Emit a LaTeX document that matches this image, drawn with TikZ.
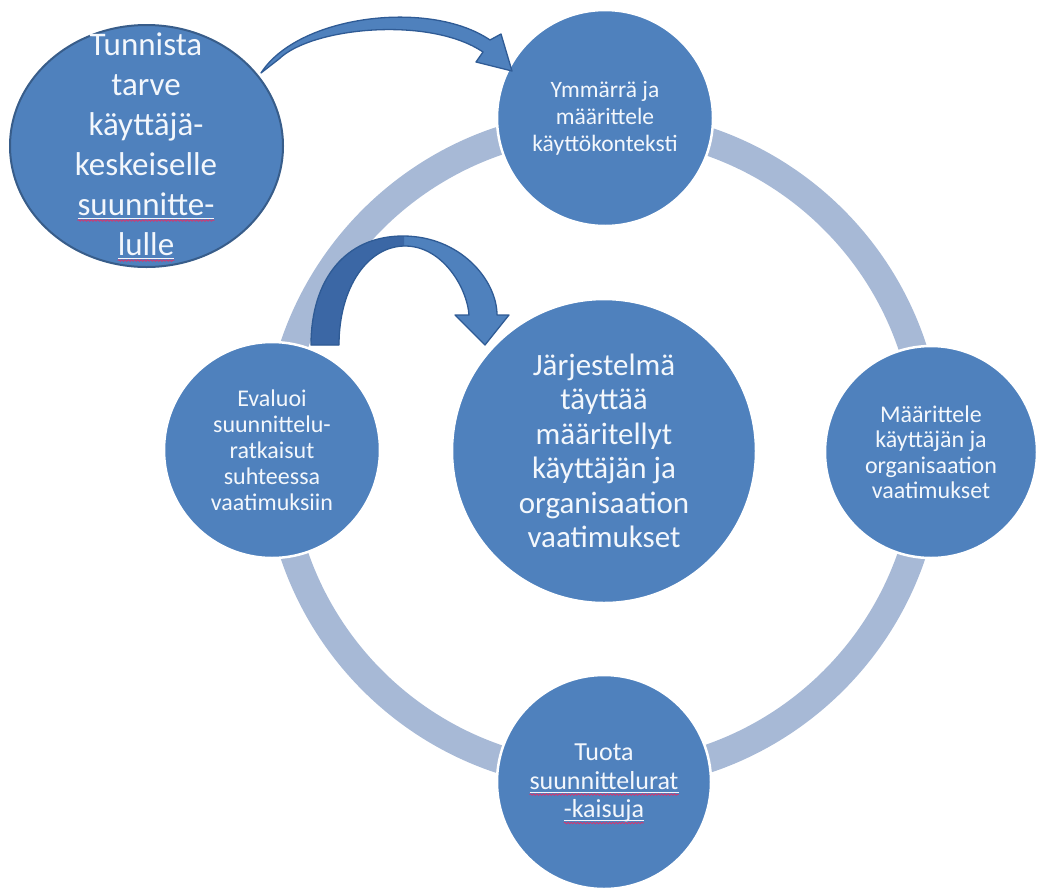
\documentclass[tikz,border=0pt]{standalone}
\usepackage{fontspec}
\setmainfont{Carlito}
\usetikzlibrary{shapes.geometric,decorations.pathmorphing}
\definecolor{bubblue}{HTML}{4F81BD}
\definecolor{bubedge}{HTML}{385D8A}
\definecolor{ringblue}{HTML}{A7B9D6}
\definecolor{arrowdark}{HTML}{2F5B95}
\definecolor{arrowshade}{HTML}{3B67A5}
\definecolor{spellred}{HTML}{E0306A}
\definecolor{txtwhite}{HTML}{F3F7FC}
\newcommand\spellerr[2]{\tikz[baseline=(#1.base)]{\node[spword](#1){#2};\draw[spunder]([yshift=-3pt]#1.base west)--([yshift=-3pt]#1.base east);\draw[spwave]([yshift=-5.5pt]#1.base west)--([yshift=-5.5pt]#1.base east);}}
\newcommand\midarrowpath{(311,345) .. controls (311,280) and (345,236) .. (403,236) .. controls (460,236) and (497,280) .. (497,315) -- (509,315) -- (485,345) -- (455,315) -- (469,315) .. controls (467,287) and (442,246) .. (405,246) .. controls (368,246) and (339,287) .. (339,345) -- cycle}
\tikzset{
  bub/.style={circle,fill=bubblue,draw=white,line width=2.5pt,inner sep=0pt,text=txtwhite,align=center},
  btext/.style={text=txtwhite,align=center,inner sep=0pt},
  spword/.style={shape=rectangle,draw=none,fill=none,inner sep=0pt,outer sep=0pt,text=txtwhite,minimum size=0pt},
  spunder/.style={txtwhite,line width=0.8pt},
  spwave/.style={spellred,line width=0.7pt,decorate,decoration={snake,amplitude=0.8pt,segment length=3.2pt}},
  ringline/.style={draw=ringblue,line width=28pt},
  blockarrow/.style={fill=bubblue,draw=arrowdark,line width=1.3pt,line join=round},
}
\begin{document}
\begin{tikzpicture}[x=1pt,y=-1pt]
\useasboundingbox (0,0) rectangle (1044,887);
\coordinate (ringc) at (603,450);
\draw[ringline] (ringc) circle[radius=326];

\node[bub,minimum size=216pt,font=\fontsize{23.5}{27}\selectfont] (ymm) at (605,118)
  {Ymmärrä ja\\määrittele\\käyttökonteksti};
\node[bub,minimum size=212pt,font=\fontsize{24}{25.5}\selectfont] (maa) at (931,452)
  {Määrittele\\käyttäjän ja\\organisaation\\vaatimukset};
\node[bub,minimum size=216pt,font=\fontsize{24}{26}\selectfont] (eva) at (272,450)
  {Evaluoi\\suunnittelu-\\ratkaisut\\suhteessa\\vaatimuksiin};
\node[bub,minimum size=214pt] (tuo) at (604,782) {};
\node[btext,font=\fontsize{26}{28.5}\selectfont] (tuotxt) at (604,784)
  {Tuota\\\spellerr{spa}{suunnittelurat}\\\spellerr{spb}{-kaisuja}};

\node[bub,minimum size=304pt,font=\fontsize{31}{34.5}\selectfont] (jar) at (604,451)
  {Järjestelmä\\täyttää\\määritellyt\\käyttäjän ja\\organisaation\\vaatimukset};

% curved block arrow from Evaluoi to the central circle
\fill[bubblue] \midarrowpath;
\begin{scope}
  \clip (300,220) rectangle (404,360);
  \fill[arrowshade] \midarrowpath;
\end{scope}
\draw[draw=arrowdark,line width=1.3pt,line join=round] \midarrowpath;

\node[ellipse,fill=bubblue,draw=bubedge,line width=2pt,minimum width=273pt,minimum height=242pt,inner sep=0pt] (tun) at (146.5,146) {};
\node[btext,font=\fontsize{33}{40}\selectfont] (tuntxt) at (146,147)
  {Tunnista\\tarve\\käyttäjä-\\keskeiselle\\\spellerr{spc}{suunnitte-}\\\spellerr{spd}{lulle}};

% curved block arrow from Tunnista to Ymmärrä
\path[blockarrow] (261,73) .. controls (298,15) and (430,-1) .. (490,40) -- (501,34) -- (512,71) -- (476,62) -- (483,52) .. controls (430,16) and (312,27) .. (279,59) -- cycle;
\end{tikzpicture}
\end{document}
